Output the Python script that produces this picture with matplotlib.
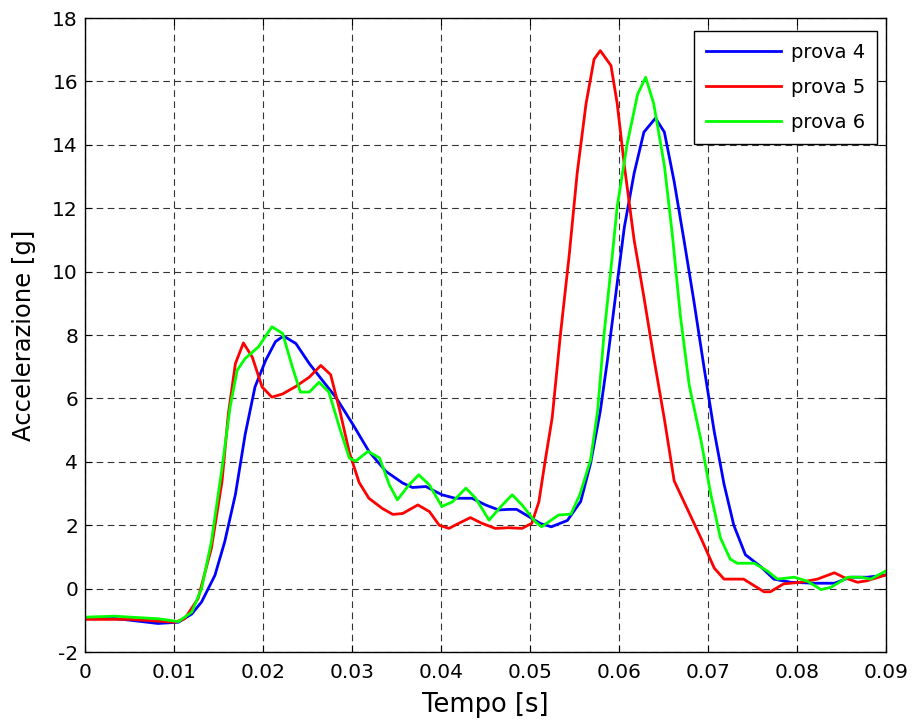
import numpy as np
import matplotlib
matplotlib.use("Agg")
import matplotlib.pyplot as plt

matplotlib.rcParams.update({"font.family": "DejaVu Sans", "font.size": 14,
                            "axes.unicode_minus": False})

# time in ms, acceleration in g
t4 = [0, 3, 5.2, 8.2, 10.5, 12, 13.1, 14.6, 15.7, 16.9, 18, 19.1, 20.3, 21.4, 22.3, 23.7,
      25.2, 26.7, 28.2, 30.1, 31.9, 33.8, 35.7, 36.8, 38.3, 40.1, 41.6, 43.5, 45, 46.5,
      47.6, 48.5, 50.0, 51.2, 52.4, 54.2, 55.7, 56.8, 57.9, 58.7, 59.6, 60.6, 61.7, 62.8,
      64.1, 65.1, 66.2, 67.3, 68.4, 69.6, 70.7, 71.8, 72.9, 74.2, 75.9, 77.4, 79.3, 81.9,
      84.2, 86.0, 87.9, 90]
a4 = [-0.92, -0.93, -1.0, -1.1, -1.06, -0.8, -0.42, 0.42, 1.48, 2.97, 4.87, 6.36, 7.2, 7.79,
      7.97, 7.73, 7.1, 6.56, 6.03, 5.18, 4.33, 3.7, 3.33, 3.19, 3.22, 2.96, 2.85, 2.85, 2.64,
      2.48, 2.5, 2.5, 2.25, 2.05, 1.95, 2.15, 2.75, 3.94, 5.6, 7.2, 9.2, 11.4, 13.1, 14.4,
      14.84, 14.4, 12.84, 11.0, 9.1, 6.9, 4.96, 3.3, 2.0, 1.07, 0.7, 0.3, 0.2, 0.17, 0.17,
      0.36, 0.36, 0.43]

t5 = [0, 5.2, 10.1, 11.2, 12.7, 14.2, 15.4, 16.1, 16.9, 17.8, 18.8, 19.9, 21, 22.2, 23.7,
      25.2, 26.5, 27.6, 28.6, 29.7, 30.8, 31.9, 33.4, 34.6, 35.7, 37.4, 38.7, 39.8, 40.9,
      42, 43.3, 44.6, 46.1, 47.6, 49.1, 50.2, 51, 51.7, 52.5, 53.4, 54.4, 55.3, 56.3, 57.2,
      57.9, 59.1, 59.8, 60.6, 61.7, 62.8, 63.9, 65.1, 66.2, 67.7, 69.2, 70.7, 71.8, 74.0,
      76.3, 77.0, 78.5, 80.4, 82.3, 84.2, 85.3, 86.8, 87.9, 90]
a5 = [-0.97, -0.97, -1.06, -0.95, -0.32, 1.27, 3.39, 5.5, 7.1, 7.75, 7.3, 6.36, 6.04, 6.14,
      6.38, 6.67, 7.04, 6.75, 5.65, 4.3, 3.35, 2.85, 2.53, 2.34, 2.37, 2.64, 2.43, 2.0, 1.9,
      2.06, 2.24, 2.06, 1.9, 1.92, 1.9, 2.06, 2.74, 4.02, 5.4, 7.96, 10.5, 13.1, 15.3, 16.7,
      16.97, 16.5, 15.3, 13.35, 11.0, 9.2, 7.3, 5.35, 3.4, 2.5, 1.6, 0.65, 0.3, 0.3, -0.1,
      -0.1, 0.15, 0.2, 0.3, 0.5, 0.35, 0.2, 0.25, 0.43]

t6 = [0, 3.3, 8.2, 10.5, 12, 13.1, 14.2, 15.4, 16.3, 17.1, 18, 19.5, 21, 22.2, 23.3, 24.2,
      25.2, 26.3, 27.4, 28.6, 29.7, 30.4, 31.8, 33.1, 34.2, 35.1, 36.4, 37.5, 38.7, 40.1,
      41.3, 42.8, 43.9, 45.4, 46.9, 48.0, 49.1, 50.6, 51.3, 53.2, 54.6, 55.6, 56.8, 57.6,
      58.3, 59.1, 59.8, 60.9, 62.1, 63.0, 63.9, 65.1, 66.0, 66.9, 67.9, 69.2, 70.3, 71.4,
      72.5, 73.3, 75.2, 76.7, 77.8, 79.7, 81.2, 82.7, 83.8, 85.7, 87.2, 88.3, 90]
a6 = [-0.9, -0.87, -0.95, -1.04, -0.74, 0, 1.48, 3.81, 5.72, 6.89, 7.26, 7.63, 8.26, 8.05,
      6.99, 6.2, 6.2, 6.51, 6.2, 5.08, 4.12, 4.02, 4.33, 4.12, 3.27, 2.8, 3.27, 3.59, 3.27,
      2.59, 2.74, 3.17, 2.85, 2.16, 2.64, 2.96, 2.64, 2.11, 1.95, 2.32, 2.35, 2.96, 4.05,
      5.6, 7.96, 10.1, 12.05, 14, 15.6, 16.13, 15.3, 13.35, 11.15, 8.6, 6.4, 4.7, 3.0, 1.6,
      0.93, 0.8, 0.8, 0.55, 0.3, 0.36, 0.23, -0.03, 0.04, 0.36, 0.36, 0.3, 0.56]

labels = ["prova 4", "prova 5", "prova 6"]
x_ticks = [0, 0.01, 0.02, 0.03, 0.04, 0.05, 0.06, 0.07, 0.08, 0.09]
x_tick_labels = ["0", "0.01", "0.02", "0.03", "0.04", "0.05", "0.06", "0.07", "0.08", "0.09"]
y_ticks = [-2, 0, 2, 4, 6, 8, 10, 12, 14, 16, 18]

fig = plt.figure(figsize=(9.13, 7.26), dpi=100)
ax = fig.add_axes([0.0931, 0.1019, 0.8773, 0.8733])

ax.plot(np.array(t4) / 1000, a4, color=(0, 0, 1), lw=2, label=labels[0])
ax.plot(np.array(t5) / 1000, a5, color=(1, 0, 0), lw=2, label=labels[1])
ax.plot(np.array(t6) / 1000, a6, color=(0, 1, 0), lw=2, label=labels[2])

ax.set_xlim(0, 0.09)
ax.set_ylim(-2, 18)
ax.set_xticks(x_ticks, x_tick_labels)
ax.set_yticks(y_ticks)
ax.tick_params(direction="in", top=True, right=True, length=5, labelsize=14.5, width=0.8)
ax.tick_params(axis="x", pad=8)
ax.tick_params(axis="y", pad=5)
ax.grid(True, color="#333333", linestyle=(0, (6, 4)), linewidth=0.8)
for s in ax.spines.values():
    s.set_linewidth(1.0)

ax.set_xlabel("Tempo [s]", fontsize=18.5, labelpad=7)
ax.set_ylabel("Accelerazione [g]", fontsize=17.5, labelpad=12)

leg = ax.legend(loc="upper right", bbox_to_anchor=(0.9888, 0.9795), borderaxespad=0,
                fontsize=14, fancybox=False, framealpha=1, edgecolor="black",
                handlelength=3.9, handletextpad=0.5, labelspacing=0.83, borderpad=0.6)
leg.get_frame().set_linewidth(1.0)

fig.savefig("out.png", dpi=100)
